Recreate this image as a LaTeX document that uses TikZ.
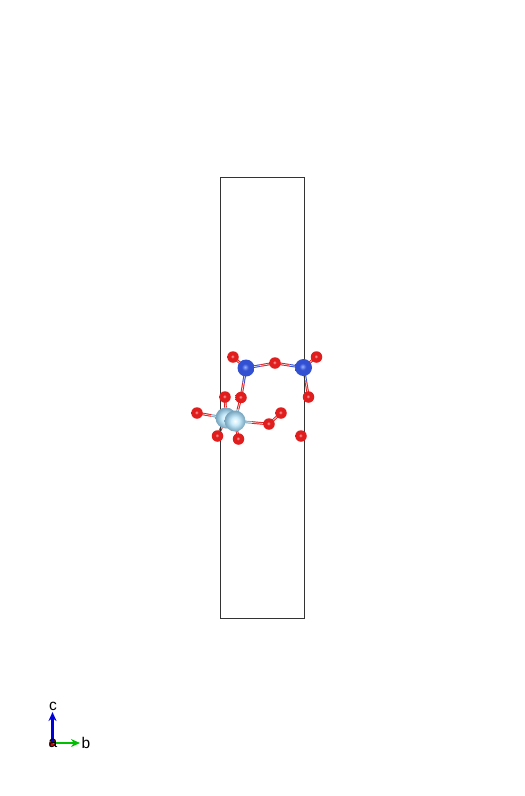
\documentclass[tikz,border=0pt]{standalone}
\usepackage{fontspec}
\setmainfont{Liberation Sans}
\usetikzlibrary{arrows.meta,calc,backgrounds}
\definecolor{ti}{RGB}{120,165,190}
\definecolor{bondred}{RGB}{225,25,25}
\definecolor{bondblue}{RGB}{45,75,205}
\definecolor{oxmid}{RGB}{225,30,30}
\definecolor{oxdark}{RGB}{130,15,15}
\definecolor{oxlite}{RGB}{255,170,170}
\definecolor{nmid}{RGB}{50,80,210}
\definecolor{ndark}{RGB}{35,50,130}
\definecolor{nlite}{RGB}{150,175,255}
\definecolor{tilite}{RGB}{200,235,250}
\definecolor{tidark}{RGB}{75,110,130}
\pgfdeclareradialshading{redball}{\pgfpoint{-3bp}{3bp}}{color(0bp)=(oxlite); color(8bp)=(oxmid); color(30bp)=(oxmid); color(50bp)=(oxdark); color(70bp)=(oxdark)}
\pgfdeclareradialshading{blueball}{\pgfpoint{-3bp}{3bp}}{color(0bp)=(nlite); color(10bp)=(nmid); color(32bp)=(nmid); color(50bp)=(ndark); color(70bp)=(ndark)}
\pgfdeclareradialshading{tiball}{\pgfpoint{0bp}{0bp}}{color(0bp)=(white); color(10bp)=(tilite); color(24bp)=(ti); color(40bp)=(ti); color(50bp)=(tidark); color(70bp)=(tidark)}
\tikzset{
  atom/.style={circle,inner sep=0pt,outer sep=0pt,draw=none},
  oxy/.style={atom,minimum size=11.5pt,shading=redball},
  nit/.style={atom,minimum size=17pt,shading=blueball},
  tit/.style={atom,minimum size=21pt,shading=tiball},
  bondline/.style={line width=2.6pt,line cap=butt},
  shine/.style={line width=0.7pt,white,opacity=.85},
  cellbox/.style={draw=black!80,line width=0.7pt},
  axis/.style={line width=2.4pt,-{Stealth[length=9pt,width=8pt]}},
  axlabel/.style={font=\fontsize{15.5pt}{16pt}\selectfont,inner sep=0pt,text=black}
}
\newcommand{\mybond}[4]{%
  \begin{scope}[on background layer]
  \draw[bondline,#3] (#1.center) -- ($(#1.center)!.5!(#2.center)$);
  \draw[bondline,#4] ($(#1.center)!.5!(#2.center)$) -- (#2.center);
  \draw[shine] (#1.center) -- (#2.center);
  \end{scope}}
\begin{document}
\begin{tikzpicture}[x=1pt,y=-1pt]
\useasboundingbox (0,0) rectangle (525,796);
\coordinate (c1) at (220.7,177);
\coordinate (c2) at (304,618.5);
\draw[cellbox] (c1) rectangle (c2);
\node[tit] (ti1) at (226,418) {};
\node[oxy] (o1) at (233,357) {};
\node[nit] (n1) at (246,368) {};
\node[oxy] (o2) at (275,363) {};
\node[nit] (n2) at (303.5,367.5) {};
\node[oxy] (o3) at (316.5,357) {};
\node[oxy] (o4) at (308.5,397) {};
\node[oxy] (o5) at (241,397.5) {};
\node[oxy] (o6) at (225,397) {};
\node[oxy] (o7) at (197,413) {};
\node[oxy] (o8) at (269,424) {};
\node[oxy] (o9) at (281,413) {};
\node[oxy] (o10) at (217.5,436) {};
\node[oxy] (o11) at (238.5,439) {};
\node[oxy] (o12) at (301,436) {};
\node[tit] (ti2) at (235,421) {};
\mybond{o1}{n1}{bondred}{bondblue}
\mybond{n1}{o2}{bondblue}{bondred}
\mybond{o2}{n2}{bondred}{bondblue}
\mybond{n2}{o3}{bondblue}{bondred}
\mybond{n2}{o4}{bondblue}{bondred}
\mybond{n1}{o5}{bondblue}{bondred}
\mybond{o5}{ti2}{bondred}{ti}
\mybond{o6}{ti1}{bondred}{ti}
\mybond{o7}{ti1}{bondred}{ti}
\mybond{o8}{ti2}{bondred}{ti}
\mybond{o8}{o9}{bondred}{bondred}
\mybond{o10}{ti1}{bondred}{ti}
\mybond{o11}{ti2}{bondred}{ti}
\coordinate (orig) at (52.5,743);
\coordinate (ctip) at (52.5,712);
\coordinate (btip) at (80,743);
\fill[red!85!black] (orig) circle (3.5pt);
\draw[axis,blue!85!black] (orig) -- (ctip);
\draw[axis,green!75!black] (orig) -- (btip);
\node[axlabel] (lc) at (53,706) {c};
\node[axlabel] (la) at (53,743) {a};
\node[axlabel] (lb) at (86,743) {b};
\end{tikzpicture}
\end{document}
